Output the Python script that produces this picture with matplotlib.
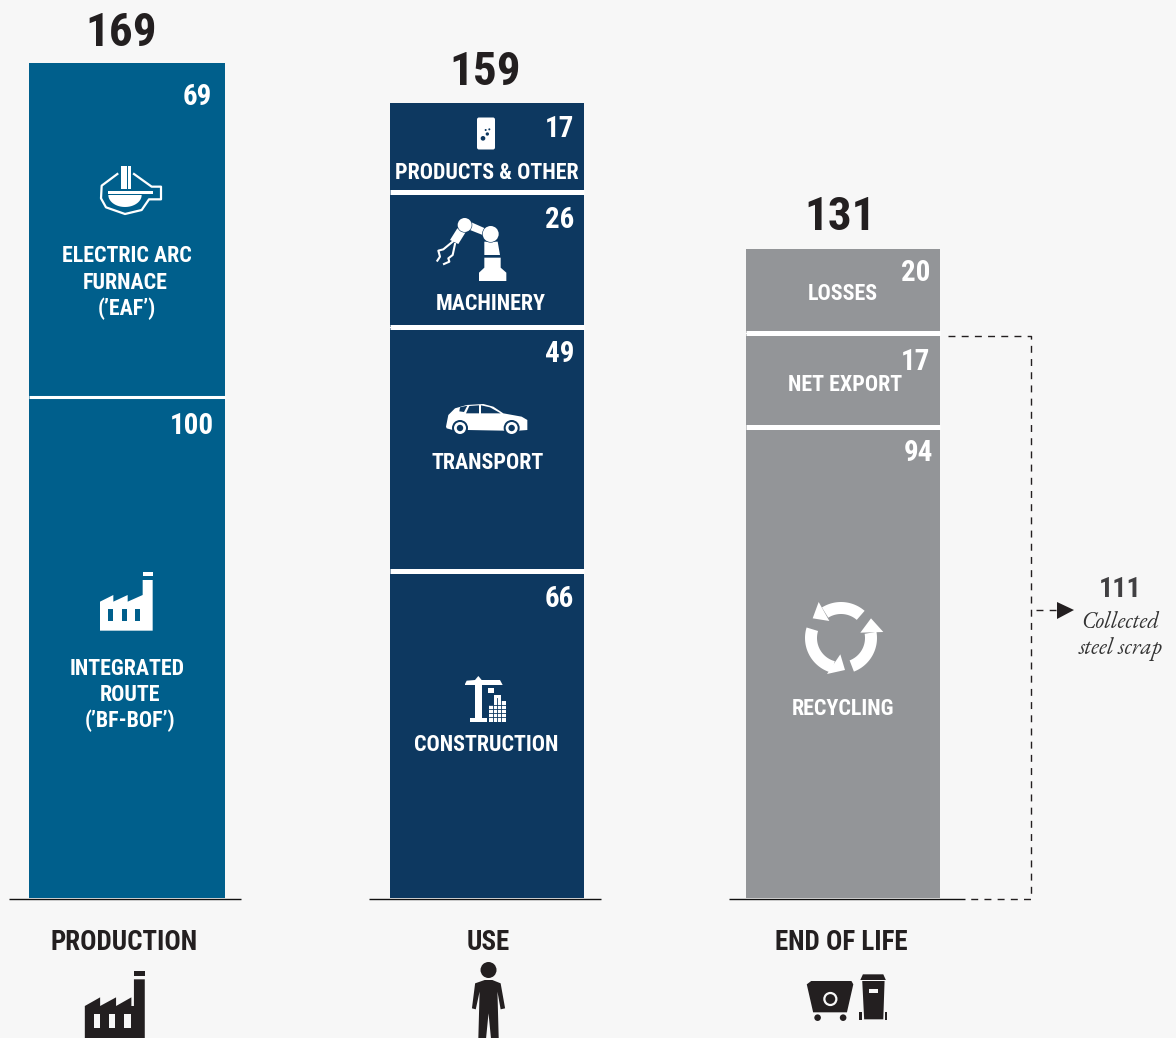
import numpy as np
import matplotlib
matplotlib.use('Agg')
import matplotlib.pyplot as plt
from matplotlib.patches import Polygon, Circle, Ellipse, Rectangle, FancyBboxPatch

# ---- data ----
stages = ['PRODUCTION', 'USE', 'END OF LIFE']
stage_totals = [169, 159, 131]
production_labels = [100, 69]
use_labels = [66, 49, 26, 17]
eol_labels = [94, 17, 20]
collected_scrap = 111
production_drawn = [100.1, 66.9]
use_drawn = [65.5, 48.6, 27.0, 17.9]
eol_drawn = [94.1, 18.8, 16.9]

BG = '#f7f7f7'
C_PROD, C_USE, C_EOL = '#005f8c', '#0d3860', '#939598'
DARK = '#231f20'
COND = ['Roboto Condensed', 'Barlow Condensed', 'Liberation Sans']
SERIF = ['EB Garamond', 'Liberation Serif']

W, H = 1176, 1038
fig = plt.figure(figsize=(W / 100, H / 100), dpi=100, facecolor=BG)

# data axes: x in layout units, y in value units (5 px per unit, baseline at 898 px)
ax = fig.add_axes([0, 0, 1, 1], facecolor=BG)
ax.set_xlim(0, W)
ax.set_ylim(-(H - 898) / 5, 898 / 5)
ax.axis('off')

columns = [(127, 196, production_drawn, C_PROD, 2.2),
           (487, 194, use_drawn, C_USE, 3.6),
           (843, 194, eol_drawn, C_EOL, 3.6)]
for xc, w, segs, col, lw in columns:
    bottoms = np.concatenate([[0], np.cumsum(segs)[:-1]])
    ax.bar(xc, segs, bottom=bottoms, width=w, color=col, linewidth=0, zorder=2)
    ax.hlines(bottoms[1:], xc - w / 2, xc + w / 2, color='white', lw=lw, zorder=3)

# overlay axes in pixel coordinates for annotations and pictograms
px = fig.add_axes([0, 0, 1, 1], facecolor='none')
px.set_xlim(0, W)
px.set_ylim(H, 0)
px.axis('off')


def text(x, yc, s, size_px, color='white', ha='center', font=COND, weight='bold', style='normal'):
    base = yc + 0.35 * size_px
    px.text(x, base, s, fontsize=size_px * 0.72, color=color, ha=ha, va='baseline',
            family=font, weight=weight, style=style, zorder=6)


def poly(pts, color='white', tf=None, z=5):
    pts = np.array(pts, float)
    if tf:
        pts = tf(pts)
    px.add_patch(Polygon(pts, closed=True, fc=color, ec='none', zorder=z))


def band(cx, cy, r0, r1, a0, a1, color='white'):
    t = np.radians(np.linspace(a0, a1, 40))
    outer = np.c_[cx + r1 * np.cos(t), cy - r1 * np.sin(t)]
    inner = np.c_[cx + r0 * np.cos(t), cy - r0 * np.sin(t)][::-1]
    poly(np.vstack([outer, inner]), color)


# totals
for (x, y), v in zip([(121, 30), (485, 69), (840, 214)], stage_totals):
    text(x, y, str(v), 47, DARK)

# stage names
for x, s in zip([124, 488, 841], stages):
    text(x, 941, s, 27, DARK)

# segment values
for x, y, v in [(212, 95, production_labels[1]), (214, 424, production_labels[0]),
                (574, 127, use_labels[3]), (574, 218, use_labels[2]),
                (574, 352, use_labels[1]), (574, 597, use_labels[0]),
                (930, 271, eol_labels[2]), (930, 360, eol_labels[1]), (933, 451, eol_labels[0])]:
    text(x, y, str(v), 29, ha='right')

# segment names
for x, y, s in [(127, 254, 'ELECTRIC ARC'), (125, 281, 'FURNACE'), (127, 307, "(’EAF’)"),
                (127, 667, 'INTEGRATED'), (130, 693, 'ROUTE'), (130, 719, "(’BF-BOF’)"),
                (487, 171, 'PRODUCTS & OTHER'), (491, 302, 'MACHINERY'),
                (488, 461, 'TRANSPORT'), (486, 743, 'CONSTRUCTION'),
                (843, 292, 'LOSSES'), (845, 383, 'NET EXPORT'), (843, 707, 'RECYCLING')]:
    text(x, y, s, 22)

# baselines
for x0, x1 in [(9, 241), (369, 601), (729, 965)]:
    px.plot([x0, x1], [898.5, 898.5], color='#111111', lw=1.0, zorder=4, solid_capstyle='butt')

# collected scrap bracket
dash = dict(color=DARK, lw=1.0, dashes=(5, 4.5), zorder=4)
px.plot([948, 1031, 1031, 965], [336, 336, 898.5, 898.5], **dash)
px.plot([1036, 1056], [610, 610], **dash)
poly([(1057, 602), (1074, 610), (1057, 619)], DARK)
text(1120, 587, str(collected_scrap), 28, '#414042')
text(1120, 620, 'Collected', 23, '#333333', font=SERIF, weight='normal', style='italic')
text(1121, 646, 'steel scrap', 23, '#333333', font=SERIF, weight='normal', style='italic')

# ---- pictograms ----
# EAF
z1 = lambda p: np.c_[p[:, 0] / 3, 60 + p[:, 1] / 3]
poly([(363, 318), (381, 318), (381, 387), (363, 387)], tf=z1)
poly([(385, 318), (393, 318), (393, 387), (385, 387)], tf=z1)
shell = z1(np.array([(352, 342), (305, 377), (303, 415), (318, 442), (375, 462), (425, 450), (447, 418),
                     (483, 418), (483, 380), (455, 380), (402, 342)], float))
px.plot(shell[:, 0], shell[:, 1], color='white', lw=1.6, zorder=5)
poly([(325, 393), (460, 393), (460, 402), (325, 402)], tf=z1)
t = np.linspace(0, np.pi, 30)
poly(np.c_[375 + 50 * np.cos(t), 405 + 36 * np.sin(t)], tf=z1)

# integrated route factory
z5 = lambda p: np.c_[60 + p[:, 0] / 3, 560 + p[:, 1] / 3]
poly([(120, 212), (120, 125), (160, 105), (160, 125), (203, 105), (203, 125), (248, 105), (248, 60),
      (278, 60), (278, 212)], tf=z5)
poly([(248, 36), (278, 36), (278, 47), (248, 47)], tf=z5)
for x0 in (145, 187, 226):
    poly([(x0, 148), (x0 + 15, 148), (x0 + 15, 183), (x0, 183)], C_PROD, tf=z5, z=6)

# can
z2 = lambda p: np.c_[380 + p[:, 0] / 3, 100 + p[:, 1] / 3]
px.add_patch(FancyBboxPatch((477, 117.5), 18, 32, boxstyle='round,pad=0,rounding_size=2',
                            fc='white', ec='none', zorder=5))
for cx, cy, r in [(309, 115, 7), (322, 102, 5), (317, 90, 3), (328, 88, 3)]:
    c = z2(np.array([[cx, cy]], float))[0]
    px.add_patch(Circle(c, r / 3, fc=C_USE, ec='none', zorder=6))

# robot arm
poly([(297, 543), (297, 518), (313, 503), (313, 473), (362, 473), (362, 503), (379, 518), (379, 543)], tf=z2)
poly([(313, 425), (353, 425), (360, 465), (313, 465)], tf=z2)
poly([(270, 365), (315, 385), (308, 405), (265, 388)], tf=z2)
poly([(232, 385), (258, 395), (235, 432), (210, 420)], tf=z2)
for (cx, cy, r) in [(332, 402, 24), (254, 375, 21)]:
    c = z2(np.array([[cx, cy]], float))[0]
    px.add_patch(Circle(c, r / 3 + 0.6, fc=C_USE, ec='none', zorder=5.5))
    px.add_patch(Circle(c, r / 3, fc='white', ec='none', zorder=6))
for g in ([(218, 425), (190, 448), (175, 452), (180, 470), (172, 482)],
          [(225, 432), (218, 465), (205, 475), (208, 485), (192, 492)]):
    g = z2(np.array(g, float))
    px.plot(g[:, 0], g[:, 1], color='white', lw=1.5, zorder=5)

# car
poly([(198, 980), (205, 945), (225, 925), (260, 915), (310, 912), (340, 920), (370, 940), (425, 950),
      (442, 960), (442, 990), (415, 992), (372, 992), (262, 990), (218, 990), (200, 985)], tf=z2)
poly([(258, 940), (268, 918), (297, 916), (297, 940)], C_USE, tf=z2, z=6)
poly([(303, 916), (330, 922), (362, 940), (303, 940)], C_USE, tf=z2, z=6)
poly([(240, 922), (262, 917), (252, 936), (238, 934)], C_USE, tf=z2, z=6)
for cx in (240, 395):
    c = z2(np.array([[cx, 984]], float))[0]
    px.add_patch(Circle(c, 8, fc=C_USE, ec='none', zorder=6))
    px.add_patch(Circle(c, 6, fc='white', ec='none', zorder=6.1))
    px.add_patch(Circle(c, 3.2, fc=C_USE, ec='none', zorder=6.2))

# crane and building
z6 = lambda p: np.c_[400 + p[:, 0] / 3, 660 + p[:, 1] / 3]
poly([(195, 72), (200, 62), (225, 60), (235, 48), (245, 60), (300, 60), (308, 75), (195, 75)], tf=z6)
poly([(225, 75), (247, 75), (247, 175), (225, 175)], tf=z6)
poly([(210, 175), (262, 175), (262, 185), (210, 185)], tf=z6)
poly([(265, 83), (282, 83), (282, 100), (265, 100)], tf=z6)
poly([(268, 135), (282, 135), (282, 105), (302, 105), (302, 122), (318, 122), (318, 185), (268, 185)], tf=z6)
for yy in (135, 147, 159, 171):
    seg = z6(np.array([[268, yy], [318, yy]], float))
    px.plot(seg[:, 0], seg[:, 1], color=C_USE, lw=0.6, zorder=6)
for xx in (280, 292, 304):
    seg = z6(np.array([[xx, 115], [xx, 185]], float))
    px.plot(seg[:, 0], seg[:, 1], color=C_USE, lw=0.6, zorder=6)

# recycling
z7 = lambda p: np.c_[781 + p[:, 0] / 3, 590 + p[:, 1] / 3]
band(841, 638, 24, 36, 49, 122)
poly([(113, 36), (95, 85), (145, 93)], tf=z7)
band(841, 638, 24, 36, 163, 255)
poly([(178, 193), (192, 240), (138, 252)], tf=z7)
band(841, 638, 24, 36, 291, 370)
poly([(270, 85), (238, 128), (307, 126)], tf=z7)

# bottom pictograms (crop was x/1.568, y/3)
z4 = lambda p: np.c_[p[:, 0] / 1.568, 880 + p[:, 1] / 3]
poly([(133, 478), (133, 378), (157, 352), (157, 378), (182, 352), (182, 378), (206, 352), (206, 378),
      (210, 378), (210, 298), (227, 298), (227, 478)], DARK, tf=z4)
poly([(210, 273), (227, 273), (227, 288), (210, 288)], DARK, tf=z4)
for x0 in (147, 171, 195):
    poly([(x0, 402), (x0 + 10, 402), (x0 + 10, 443), (x0, 443)], BG, tf=z4, z=6)

c = z4(np.array([[766, 270]], float))[0]
px.add_patch(Ellipse(c, 16, 16, fc=DARK, ec='none', zorder=5))
poly([(745, 310), (760, 300), (772, 300), (785, 310), (792, 385), (785, 388), (780, 335), (782, 478),
      (770, 478), (766, 400), (762, 478), (750, 478), (752, 335), (746, 388), (740, 385)], DARK, tf=z4)

poly([(1265, 313), (1272, 303), (1335, 303), (1338, 313), (1328, 397), (1275, 397)], DARK, tf=z4)
for cx in (1282, 1322):
    c = z4(np.array([[cx, 413]], float))[0]
    px.add_patch(Circle(c, 3.3, fc=DARK, ec='none', zorder=5))
c = z4(np.array([[1302, 357]], float))[0]
px.add_patch(Circle(c, 6, fc='none', ec=BG, lw=1.6, zorder=6))
poly([(1352, 303), (1387, 303), (1385, 418), (1355, 418)], DARK, tf=z4)
poly([(1353, 283), (1385, 283), (1389, 300), (1349, 300)], DARK, tf=z4)
poly([(1363, 326), (1377, 326), (1377, 338), (1363, 338)], BG, tf=z4, z=6)
poly([(1347, 395), (1351, 395), (1351, 421), (1347, 421)], DARK, tf=z4)
poly([(1387, 395), (1391, 395), (1391, 421), (1387, 421)], DARK, tf=z4)

fig.savefig('out.png', dpi=100, facecolor=BG)
